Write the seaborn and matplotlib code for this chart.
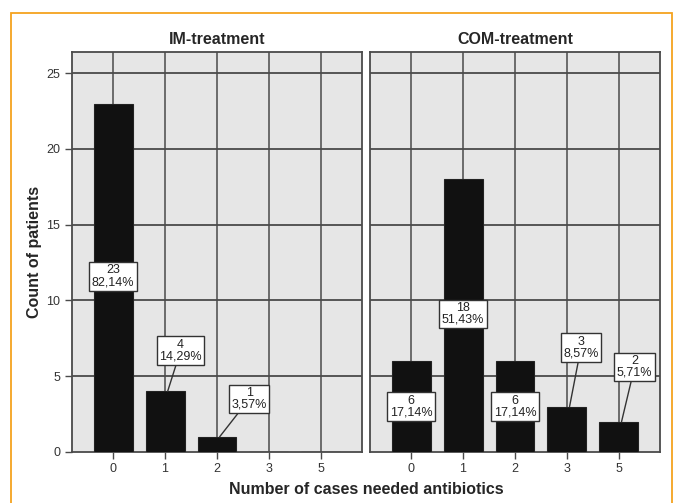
import numpy as np
import matplotlib
matplotlib.use("Agg")
import matplotlib.pyplot as plt
import pandas as pd
import seaborn as sns
from matplotlib.patches import Rectangle

sns.set_style("white")
plt.rcParams["font.family"] = ['Liberation Sans Narrow', 'Liberation Sans', 'DejaVu Sans']

cases = ['0', '1', '2', '3', '5']
im_counts = [23, 4, 1, 0, 0]
com_counts = [6, 18, 6, 3, 2]
im_pct = ['82,14%', '14,29%', '3,57%', '', '']
com_pct = ['17,14%', '51,43%', '17,14%', '8,57%', '5,71%']
panels = ['IM-treatment', 'COM-treatment']

# label box offsets from bar top (dx, dy) - layout only
im_offsets = [(0, -11.4), (0.3, 2.7), (0.62, 2.5), None, None]
com_offsets = [(0, -3.0), (0, -8.9), (0, -3.0), (0.27, 3.9), (0.3, 3.6)]

grid_col = '#4a4a4a'
bg_col = '#e6e6e6'

fig = plt.figure(figsize=(6.74, 5.03), dpi=100)
fig.patch.set_facecolor('white')
fig.patches.append(Rectangle((11 / 674, -0.01), (672 - 11) / 674, 1 - 13 / 503 + 0.01,
                             transform=fig.transFigure, fill=False,
                             edgecolor='#f5a31f', lw=1.3))

ax1 = fig.add_axes([72 / 674, 1 - 452 / 503, 290 / 674, 400 / 503])
ax2 = fig.add_axes([370 / 674, 1 - 452 / 503, 290 / 674, 400 / 503])

for ax, title, counts, pct, offs in [(ax1, panels[0], im_counts, im_pct, im_offsets),
                                     (ax2, panels[1], com_counts, com_pct, com_offsets)]:
    df = pd.DataFrame({'cases': cases, 'count': counts})
    ax.set_facecolor(bg_col)
    sns.barplot(data=df, x='cases', y='count', order=cases, color='#111111',
                width=0.75, edgecolor='#222222', linewidth=0.8, saturation=1, ax=ax,
                zorder=3)
    ax.set_xlim(-0.79, 4.79)
    ax.set_ylim(0, 26.4)
    ax.set_yticks([0, 5, 10, 15, 20, 25])
    for v in [5, 10, 15, 20, 25]:
        ax.axhline(v, color=grid_col, lw=1.3, zorder=1)
    for x in range(len(cases)):
        ax.axvline(x, color=grid_col, lw=1.1, zorder=1)
    for s in ax.spines.values():
        s.set_color(grid_col)
        s.set_linewidth(1.3)
    ax.set_title(title, fontsize=11.5, fontweight='bold', pad=6)
    ax.set_xlabel('')
    ax.set_ylabel('')
    ax.tick_params(axis='x', length=5, width=1, color=grid_col, labelsize=9,
                   labelcolor='#333333', bottom=True, pad=3)
    ax.tick_params(axis='y', length=5, width=1, color=grid_col, labelsize=9,
                   labelcolor='#333333', left=True)

    for i, (c, p, o) in enumerate(zip(counts, pct, offs)):
        if o is None or c == 0:
            continue
        dx, dy = o
        txt = f'{c}\n{p}'
        bbox = dict(boxstyle='square,pad=0.2', fc='white', ec='#333333', lw=1)
        if dy > 0:
            ax.annotate(txt, xy=(i + 0.05, c), xytext=(i + dx, c + dy),
                        ha='center', va='center', fontsize=9, linespacing=0.95,
                        color='#222222', bbox=bbox, zorder=5,
                        arrowprops=dict(arrowstyle='-', color='#333333', lw=1,
                                        shrinkA=0, shrinkB=0))
        else:
            ax.text(i + dx, c + dy, txt, ha='center', va='center', fontsize=9,
                    linespacing=0.95, color='#222222', bbox=bbox, zorder=5)

ax2.set_yticks([0, 5, 10, 15, 20, 25])
ax2.tick_params(axis='y', left=False, labelleft=False)

fig.text(35 / 674, 1 - 252 / 503, 'Count of patients', rotation=90, ha='center',
         va='center', fontsize=11.5, fontweight='bold')
fig.text(366 / 674, 1 - 490 / 503, 'Number of cases needed antibiotics', ha='center',
         va='center', fontsize=11.5, fontweight='bold')

plt.savefig('out.png', dpi=100, facecolor='white')
